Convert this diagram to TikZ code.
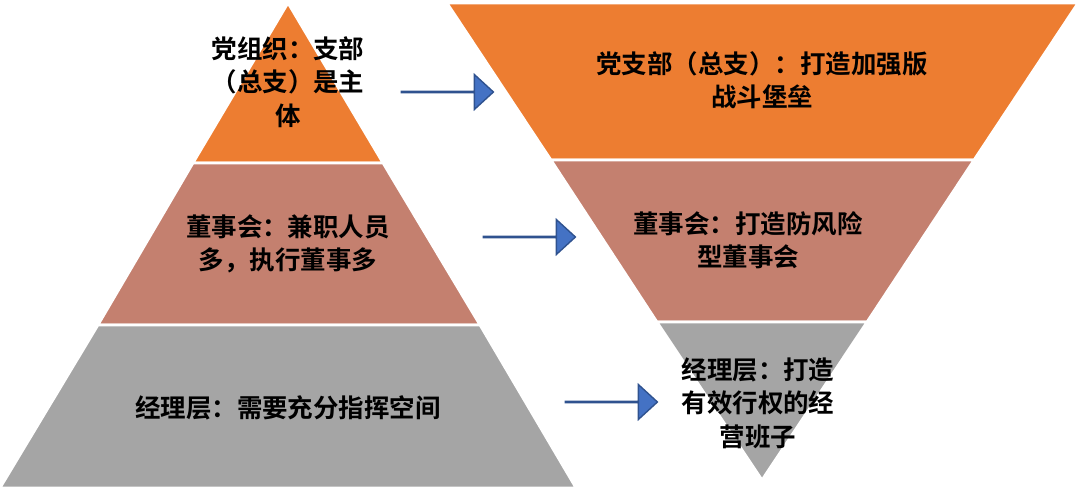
\documentclass[tikz,border=0pt]{standalone}
\usepackage{fontspec}
\setmainfont{Noto Sans CJK SC Bold}
\usetikzlibrary{shapes.arrows}
\definecolor{party}{HTML}{ED7D31}
\definecolor{board}{HTML}{C4806F}
\definecolor{mgr}{HTML}{A5A5A5}
\definecolor{arr}{HTML}{4472C4}
\definecolor{arrline}{HTML}{2F528F}
\tikzset{
  band/.style={draw=white,line width=1.5pt},
  label/.style={align=center,font=\fontsize{14.5}{19}\selectfont,inner sep=0pt},
  bigarrow/.style={single arrow,draw=arrline,fill=arr,line width=0.8pt,
    minimum width=0.7cm,single arrow head extend=0.3cm,minimum height=1.84cm,
    single arrow tip angle=85,inner sep=0pt}
}
\begin{document}
\begin{tikzpicture}[x=0.02cm,y=-0.02cm]
  \useasboundingbox (0,0) rectangle (1080,491);
  % left pyramid
  \fill[party,band] (288,3) -- (383,163) -- (193,163) -- cycle;
  \fill[board,band] (193,163) -- (383,163) -- (480,325) -- (98,325) -- cycle;
  \fill[mgr,band] (98,325) -- (480,325) -- (576,488) -- (0,488) -- cycle;
  % right pyramid
  \fill[party,band] (447,3) -- (1078,3) -- (974,160) -- (551,160) -- cycle;
  \fill[board,band] (551,160) -- (974,160) -- (867,322) -- (657,322) -- cycle;
  \fill[mgr,band] (657,322) -- (867,322) -- (762,480) -- cycle;
  % texts
  \node[label] (l1) at (288,82) {党组织：支部\\（总支）是主\\体};
  \node[label] (l2) at (288,244) {董事会：兼职人员\\多，执行董事多};
  \node[label] (l3) at (288,408) {经理层：需要充分指挥空间};
  \node[label] (r1) at (762,80) {党支部（总支）：打造加强版\\战斗堡垒};
  \node[label] (r2) at (748,240) {董事会：打造防风险\\型董事会};
  \node[label] (r3) at (758,403) {经理层：打造\\有效行权的经\\营班子};
  % arrows
  \node[bigarrow] (a1) at (447,92) {};
  \node[bigarrow] (a2) at (529,237) {};
  \node[bigarrow] (a3) at (611,402) {};
\end{tikzpicture}
\end{document}
